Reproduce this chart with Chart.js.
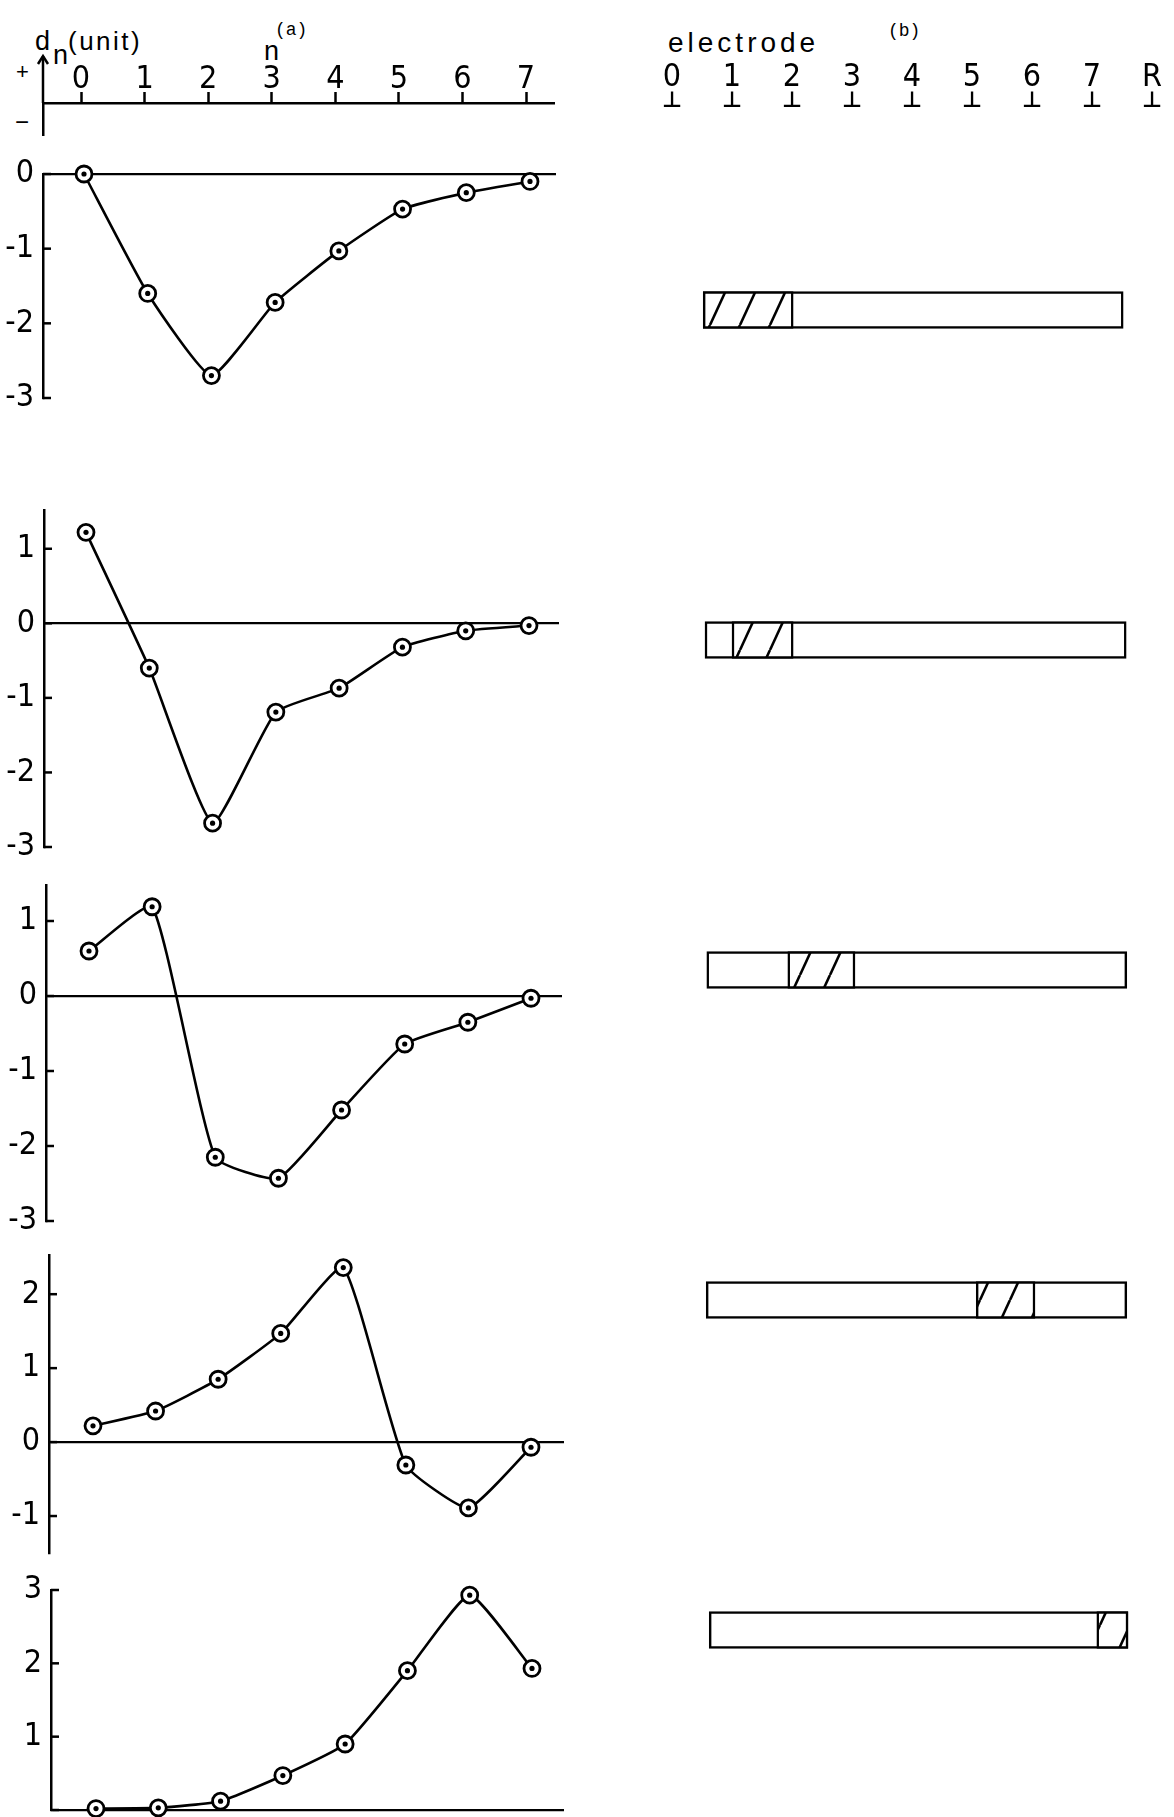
<!DOCTYPE html>
<html>
<head>
<meta charset="utf-8">
<script src="https://cdn.jsdelivr.net/npm/chart.js@4.4.1/dist/chart.umd.min.js"></script>
<style>
  html, body { margin: 0; padding: 0; background: #fff; }
  body { width: 1174px; height: 1817px; position: relative; overflow: hidden; }
  canvas { position: absolute; }
  .t { position: absolute; white-space: nowrap; color: #000; line-height: 1;
       font-family: "Liberation Sans", Arial, sans-serif; }
  .mono { font-family: "Liberation Mono", "DejaVu Sans Mono", monospace; }
</style>
</head>
<body>
<div class="t" style="left:35px;top:28px;font-size:27px;">d</div>
<div class="t" style="left:53px;top:42px;font-size:27px;">n</div>
<div class="t" style="left:68px;top:28px;font-size:26px;letter-spacing:2.5px;">(unit)</div>
<div class="t" style="left:16px;top:61px;font-size:22px;">+</div>
<div class="t" style="left:15px;top:110px;font-size:24px;">−</div>
<div class="t" style="left:264px;top:38px;font-size:27px;">n</div>
<div class="t mono" style="left:275px;top:21px;font-size:18px;">(a)</div>
<div class="t" style="left:668px;top:29px;font-size:28px;letter-spacing:4px;">electrode</div>
<div class="t mono" style="left:888px;top:22px;font-size:18px;">(b)</div>

<script>
// electrode index n along the horizontal axis of every d_n panel
const nValues = [0, 1, 2, 3, 4, 5, 6, 7];

// d_n (unit) for each of the five excitation cases
const dnCase1 = [0.00, -1.60, -2.70, -1.72, -1.03, -0.47, -0.25, -0.10];
const dnCase2 = [1.22, -0.60, -2.68, -1.19, -0.87, -0.32, -0.10, -0.03];
const dnCase3 = [0.60, 1.19, -2.15, -2.43, -1.52, -0.64, -0.35, -0.03];
const dnCase4 = [0.22, 0.42, 0.85, 1.47, 2.36, -0.31, -0.89, -0.07];
const dnCase5 = [0.02, 0.03, 0.12, 0.47, 0.90, 1.90, 2.93, 1.93];

// vertical extent of each panel's d_n axis
const dnAxisMin = [-3, -3, -3, -1.5, 0];
const dnAxisMax = [0, 1.52, 1.48, 2.53, 3];

// electrode strip: tick labels and the span covered in each case
const electrodeLabels = ['0', '1', '2', '3', '4', '5', '6', '7', 'R'];
const caseLabels = ['1', '2', '3', '4', '5'];
const stripStart = [0.52, 0.55, 0.58, 0.57, 0.62];
const stripEnd = [7.52, 7.57, 7.58, 7.58, 7.6];
// hatched (active) part of the strip
const activeStart = [0.52, 1.00, 1.93, 5.07, 7.08];
const activeEnd = [2.02, 2.02, 3.05, 6.05, 7.6];

const dnSeries = [dnCase1, dnCase2, dnCase3, dnCase4, dnCase5];

// ---------- drawing helpers ----------
const INK = '#000';
const LETTER = 'Liberation Sans Narrow, DejaVu Sans Condensed, Liberation Sans, sans-serif';
const LEFT_W = 600;

function makeCanvas(left, top, w, h) {
  const c = document.createElement('canvas');
  c.width = w; c.height = h;
  c.style.left = left + 'px'; c.style.top = top + 'px';
  c.style.width = w + 'px'; c.style.height = h + 'px';
  document.body.appendChild(c);
  return c;
}

// x range so that n = 0 and n = 7 fall at the wanted pixels of a panel box
function nRange(box) {
  const u = (box.n7 - box.n0) / 7;
  return { min: -(box.n0 - box.axisX) / u, max: 7 + (box.end - box.n7) / u };
}

// fixed integer tick positions 0..count-1
const integerTicks = count => scale => {
  scale.ticks = Array.from({ length: count }, (_, k) => ({ value: k }));
};

// short tick marks pointing into the plot from the y axis
const inwardTicks = {
  id: 'inwardTicks',
  afterDraw(chart, args, opts) {
    const s = chart.scales.y, ctx = chart.ctx;
    ctx.save();
    ctx.strokeStyle = INK; ctx.lineWidth = 2.5;
    s.ticks.forEach(t => {
      const y = s.getPixelForValue(t.value);
      ctx.beginPath();
      ctx.moveTo(s.right, y);
      ctx.lineTo(s.right + opts.length, y);
      ctx.stroke();
    });
    ctx.restore();
  }
};

// arrow continuing the sign axis upwards above the n axis
const signArrow = {
  id: 'signArrow',
  afterDraw(chart, args, opts) {
    const ctx = chart.ctx, x = chart.chartArea.left, top = opts.tip;
    ctx.save();
    ctx.strokeStyle = INK; ctx.lineWidth = 2.5; ctx.lineJoin = 'miter';
    ctx.beginPath();
    ctx.moveTo(x, chart.chartArea.top);
    ctx.lineTo(x, top);
    ctx.stroke();
    ctx.beginPath();
    ctx.moveTo(x - 5, top + 8);
    ctx.lineTo(x, top);
    ctx.lineTo(x + 5, top + 8);
    ctx.stroke();
    ctx.restore();
  }
};

// ---------- (a) header: n axis with the sign arrow ----------
(function header() {
  const box = { axisX: 43, n0: 81, n7: 526, end: 554 };
  const r = nRange(box);
  const cv = makeCanvas(0, 0, LEFT_W, 145);
  new Chart(cv, {
    type: 'line',
    data: { datasets: [{ data: [] }] },
    options: {
      responsive: false, animation: false, events: [], devicePixelRatio: 1,
      layout: { padding: { top: 0, bottom: 10, left: 0, right: LEFT_W - box.end } },
      plugins: { legend: { display: false }, tooltip: { enabled: false }, signArrow: { tip: 56 } },
      scales: {
        x: {
          type: 'linear', position: 'top', min: r.min, max: r.max,
          afterFit: s => { s.height = 103; },
          afterBuildTicks: integerTicks(nValues.length),
          ticks: {
            padding: 0, color: INK,
            font: { family: LETTER, size: 32, lineHeight: 0.75 },
            callback: v => String(v)
          },
          grid: { display: true, drawOnChartArea: false, drawTicks: true, tickLength: 11,
                  tickWidth: 2.5, tickColor: INK },
          border: { display: true, color: INK, width: 2.5 }
        },
        y: {
          min: -1, max: 1,
          afterFit: s => { s.width = box.axisX; },
          ticks: { display: false },
          grid: { display: false, drawTicks: false },
          border: { display: true, color: INK, width: 2.5 }
        }
      }
    },
    plugins: [signArrow]
  });
})();

// ---------- (a) d_n panels ----------
const panelBoxes = [
  { top: 174, bottom: 398, axisX: 43, n0: 84, n7: 530, end: 556 },
  { top: 510, bottom: 847, axisX: 44, n0: 86, n7: 529, end: 559 },
  { top: 885, bottom: 1221, axisX: 46, n0: 89, n7: 531, end: 562 },
  { top: 1255, bottom: 1553, axisX: 49, n0: 93, n7: 531, end: 564 },
  { top: 1590, bottom: 1810, axisX: 51, n0: 96, n7: 532, end: 564 }
];

dnSeries.forEach((values, i) => {
  const box = panelBoxes[i];
  const r = nRange(box);
  const pad = 40;
  const cv = makeCanvas(0, box.top - pad, LEFT_W, box.bottom - box.top + 2 * pad);
  const pts = nValues.map((n, k) => ({ x: n, y: values[k] }));
  const hideZero = dnAxisMin[i] === 0;
  new Chart(cv, {
    type: 'line',
    data: {
      datasets: [
        { data: pts, showLine: false, pointRadius: 2.6, pointBorderWidth: 0,
          pointBackgroundColor: INK, clip: false, order: 0 },
        { data: pts, borderColor: INK, borderWidth: 2.6, tension: 0.15,
          pointRadius: 8, pointBorderWidth: 2.8, pointBorderColor: INK,
          pointBackgroundColor: '#fff', clip: false, order: 1 }
      ]
    },
    options: {
      responsive: false, animation: false, events: [], devicePixelRatio: 1,
      layout: { padding: { top: pad, bottom: pad, left: 0, right: LEFT_W - box.end } },
      plugins: { legend: { display: false }, tooltip: { enabled: false }, inwardTicks: { length: 8 } },
      scales: {
        x: { type: 'linear', display: false, min: r.min, max: r.max },
        y: {
          min: dnAxisMin[i], max: dnAxisMax[i],
          afterFit: s => { s.width = box.axisX; },
          ticks: {
            stepSize: 1, includeBounds: false, padding: 9, color: INK,
            font: { family: LETTER, size: 32 },
            callback: v => (hideZero && v === 0) ? '' : String(v)
          },
          grid: {
            drawTicks: false, lineWidth: 2.2,
            color: c => (c.tick && c.tick.value === 0) ? INK : 'rgba(0,0,0,0)'
          },
          border: { display: true, color: INK, width: 2.5 }
        }
      }
    },
    plugins: [inwardTicks]
  });
});

// ---------- (b) electrode strips ----------
function hatch() {
  const tile = document.createElement('canvas');
  tile.width = 30; tile.height = 65;
  const g = tile.getContext('2d');
  g.fillStyle = '#fff'; g.fillRect(0, 0, 30, 65);
  g.strokeStyle = INK; g.lineWidth = 2.6;
  [-30, 0, 30].forEach(dx => {
    g.beginPath(); g.moveTo(dx, 65); g.lineTo(dx + 30, 0); g.stroke();
  });
  return g.createPattern(tile, 'repeat');
}

(function strips() {
  const E_MIN = -0.5, E_MAX = 8.3;
  const cv = makeCanvas(620, 0, 554, 1817);
  new Chart(cv, {
    type: 'bar',
    data: {
      labels: caseLabels,
      datasets: [
        { data: stripStart.map((a, k) => [a, stripEnd[k]]), backgroundColor: '#fff',
          borderColor: INK, borderWidth: 2.5, borderSkipped: false,
          barThickness: 37, grouped: false, order: 2 },
        { data: activeStart.map((a, k) => [a, activeEnd[k]]), backgroundColor: hatch(),
          borderColor: INK, borderWidth: 2.5, borderSkipped: false,
          barThickness: 37, grouped: false, order: 1 }
      ]
    },
    options: {
      indexAxis: 'y',
      responsive: false, animation: false, events: [], devicePixelRatio: 1,
      layout: { padding: { top: 0, bottom: 22, left: 22, right: 4 } },
      plugins: { legend: { display: false }, tooltip: { enabled: false } },
      scales: {
        x: {
          type: 'linear', position: 'top', min: E_MIN, max: E_MAX, weight: 0,
          afterFit: s => { s.height = 55; },
          afterBuildTicks: integerTicks(electrodeLabels.length),
          ticks: {
            padding: 0, color: INK,
            // tall line box lifts the glyph well above the strips
            font: { family: 'DejaVu Sans', size: 22, weight: 'bold', lineHeight: 4 },
            callback: () => '⊥'
          },
          grid: { display: false, drawTicks: false },
          border: { display: false }
        },
        xe: {
          axis: 'x', type: 'linear', position: 'top', min: E_MIN, max: E_MAX, weight: 1,
          afterFit: s => { s.height = 90; },
          afterBuildTicks: integerTicks(electrodeLabels.length),
          ticks: {
            padding: 0, color: INK,
            font: { family: LETTER, size: 32, lineHeight: 0.75 },
            callback: v => electrodeLabels[v]
          },
          grid: { display: false, drawTicks: false },
          border: { display: false }
        },
        y: { type: 'category', display: false }
      }
    }
  });
})();
</script>
</body>
</html>
